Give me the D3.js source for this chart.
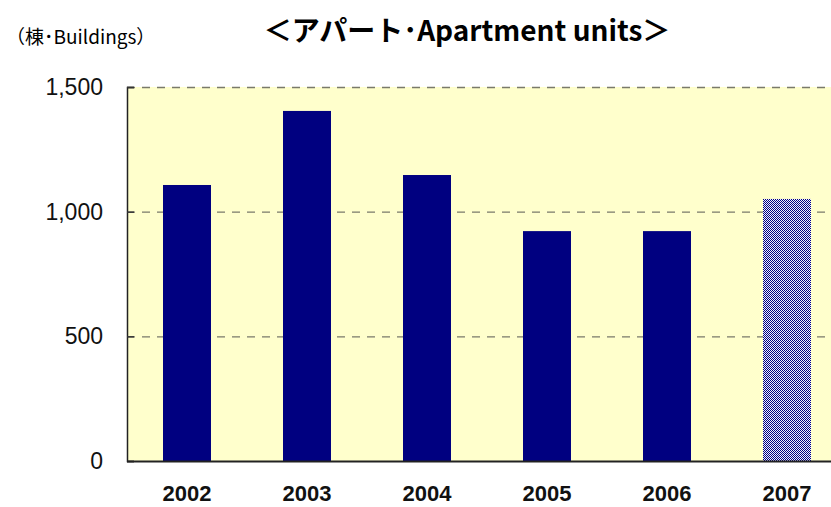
<!DOCTYPE html>
<html>
<head>
<meta charset="utf-8">
<script src="https://cdn.jsdelivr.net/npm/d3@7"></script>
<style>
  body { margin: 0; background: #fff; }
  text { font-family: "Liberation Sans", Arial, sans-serif; }
</style>
</head>
<body>
<div id="chart"></div>
<script>
// data
let years = ["2002", "2003", "2004", "2005", "2006", "2007"];
let buildings = [1107, 1404, 1147, 922, 922, 1051];
let yTicks = [0, 500, 1000, 1500];
let estimated = ["2007"];

let w = 831, h = 507;
let m = {top: 87, right: -20, bottom: 46, left: 127};

let svg = d3.select("#chart")
    .append("svg")
    .attr("width", w)
    .attr("height", h);

// checker pattern for the last (hatched) bar
let pat = svg.append("defs").append("pattern")
    .attr("id", "checker")
    .attr("width", 2).attr("height", 2)
    .attr("patternUnits", "userSpaceOnUse");
pat.append("rect").attr("width", 2).attr("height", 2).attr("fill", "#000080");
pat.append("rect").attr("x", 1).attr("width", 1).attr("height", 1).attr("fill", "#eeeeff");
pat.append("rect").attr("y", 1).attr("width", 1).attr("height", 1).attr("fill", "#eeeeff");

let x = d3.scaleBand()
    .domain(years)
    .range([m.left, m.left + 720])
    .paddingInner(0.6)
    .paddingOuter(0.3);

let y = d3.scaleLinear()
    .domain([0, 1500])
    .range([h - m.bottom, m.top]);

// plot background
svg.append("rect")
    .attr("x", m.left)
    .attr("y", y(1500))
    .attr("width", w - m.left)
    .attr("height", y(0) - y(1500))
    .attr("fill", "#ffffcc");

// gridlines
svg.append("g")
    .selectAll("line")
    .data(yTicks.filter(d => d > 0))
    .enter()
    .append("line")
    .attr("x1", m.left)
    .attr("x2", w)
    .attr("y1", d => y(d) + 0.5)
    .attr("y2", d => y(d) + 0.5)
    .attr("stroke", "#7a7a6a")
    .attr("stroke-width", 1.3)
    .attr("stroke-dasharray", "8,7");

// bars
svg.append("g")
    .selectAll("rect")
    .data(years)
    .enter()
    .append("rect")
    .attr("x", d => x(d))
    .attr("y", (d, i) => y(buildings[i]))
    .attr("width", x.bandwidth())
    .attr("height", (d, i) => y(0) - y(buildings[i]))
    .attr("fill", d => estimated.includes(d) ? "url(#checker)" : "#000080");

// y axis
let yAxis = svg.append("g")
    .attr("transform", `translate(${m.left},0)`)
    .call(d3.axisLeft(y).tickValues(yTicks).tickFormat(d3.format(",")).tickSize(-7).tickPadding(24));
yAxis.select(".domain").attr("stroke", "#222").attr("stroke-width", 1.5);
yAxis.selectAll(".tick line").attr("stroke", "#333").attr("stroke-width", 1.5);
yAxis.selectAll("text")
    .attr("font-size", 23)
    .attr("fill", "#111");

// x axis
let xAxis = svg.append("g")
    .attr("transform", `translate(0,${y(0)})`)
    .call(d3.axisBottom(x).tickSize(0).tickPadding(24));
xAxis.select(".domain")
    .attr("d", `M${m.left},0.5H${w}`)
    .attr("stroke", "#222")
    .attr("stroke-width", 2);
xAxis.selectAll("text")
    .attr("font-size", 22)
    .attr("font-weight", "bold")
    .attr("fill", "#111");

// titles
svg.append("text")
    .attr("x", 467)
    .attr("y", 41)
    .attr("text-anchor", "middle")
    .attr("font-size", 28)
    .attr("font-weight", "bold")
    .style("font-family", "'Noto Sans CJK JP', sans-serif")
    .text("＜アパート･Apartment units＞");

svg.append("text")
    .attr("x", 6)
    .attr("y", 44)
    .attr("font-size", 19)
    .style("font-family", "'Noto Sans CJK JP', sans-serif")
    .text("（棟･Buildings）");
</script>
</body>
</html>
